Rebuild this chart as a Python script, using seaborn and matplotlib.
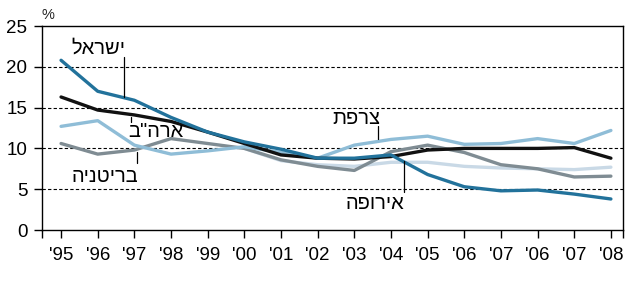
import numpy as np
import pandas as pd
import matplotlib
matplotlib.use("Agg")
import matplotlib.pyplot as plt
import seaborn as sns

tick_labels = ["'95", "'96", "'97", "'98", "'99", "'00", "'01", "'02",
               "'03", "'04", "'05", "'06", "'07", "'06", "'07", "'08"]

israel  = [20.8, 17.0, 15.9, 13.8, 12.0, 10.8, 9.9, 8.8, 8.8, 9.2, 6.8, 5.3, 4.8, 4.9, 4.4, 3.8]
usa     = [16.3, 14.7, 14.1, 13.3, 12.0, 10.6, 9.2, 8.8, 8.7, 9.0, 9.8, 10.0, 10.0, 10.0, 10.1, 8.8]
france  = [12.7, 13.4, 10.4, 9.3, 9.7, 10.2, 9.5, 8.8, 10.4, 11.1, 11.5, 10.5, 10.6, 11.2, 10.6, 12.2]
britain = [10.6, 9.3, 9.8, 11.2, 10.6, 10.0, 8.6, 7.8, 7.3, 9.6, 10.4, 9.5, 8.0, 7.5, 6.5, 6.6]
europe  = [np.nan, np.nan, np.nan, np.nan, np.nan, 10.0, 8.5, 8.0, 7.8, 8.3, 8.3, 7.8, 7.6, 7.5, 7.4, 7.7]

series = {"europe": europe, "britain": britain, "france": france, "usa": usa, "israel": israel}
palette = {"europe": "#c9d9e6", "britain": "#7f8c93", "france": "#8fbdd7",
           "usa": "#111111", "israel": "#22729b"}

rows = []
for name, vals in series.items():
    for i, v in enumerate(vals):
        rows.append({"x": i, "value": v, "series": name})
df = pd.DataFrame(rows)

sns.set_theme(style="white")
plt.rcParams['font.family'] = ['Liberation Sans', 'DejaVu Sans']

fig = plt.figure(figsize=(6.26, 2.87), dpi=100)
ax = fig.add_axes([0.0671, 0.1986, 0.9281, 0.7108])

for yv in [5, 10, 15, 20]:
    ax.axhline(yv, color="black", lw=0.8, ls=(0, (3, 2)), zorder=1)

sns.lineplot(data=df, x="x", y="value", hue="series", palette=palette,
             hue_order=list(series.keys()), linewidth=2.4, legend=False,
             ax=ax, zorder=3, estimator=None, sort=False)

xmin, xmax = -0.52, 15.33
ax.set_xlim(xmin, xmax)
ax.set_ylim(0, 25)
ax.set_xticks(range(len(tick_labels)))
ax.set_xticklabels(tick_labels, fontsize=13.5)
ax.set_xticks([xmin, xmax], minor=True)
ax.set_yticks([0, 5, 10, 15, 20, 25])
ax.set_yticklabels(["0", "5", "10", "15", "20", "25"], fontsize=13.5)
ax.set_xlabel("")
ax.set_ylabel("")
ax.tick_params(axis="both", which="both", direction="out", length=5.6, width=1,
               color="black", bottom=True, left=True, colors="black")
ax.tick_params(axis="x", pad=6.5)
ax.tick_params(axis="y", pad=5)
for sp in ax.spines.values():
    sp.set_color("black")
    sp.set_linewidth(1.0)
    sp.set_visible(True)

fig.text(42 / 626, 1 - 15 / 287, "%", fontsize=10.5, ha="left", va="center")

# labels (Hebrew reversed for LTR rendering)
def lab(x, y, s):
    ax.text(x, y, s, fontsize=14.5, ha="center", va="center", color="black", zorder=5)

lab(1.01, 22.3, "לארשי")
ax.plot([1.72, 1.72], [21.2, 16.3], color="black", lw=0.9, zorder=4)
lab(2.6, 12.1, "ב\"הרא")
ax.plot([1.9, 1.9], [13.9, 13.2], color="black", lw=0.9, zorder=4)
lab(8.05, 13.7, "תפרצ")
ax.plot([8.64, 8.64], [12.7, 11.1], color="black", lw=0.9, zorder=4)
lab(1.19, 6.6, "הינטירב")
ax.plot([2.07, 2.07], [9.5, 8.2], color="black", lw=0.9, zorder=4)
lab(8.56, 3.3, "הפוריא")
ax.plot([9.35, 9.35], [8.4, 4.65], color="black", lw=0.9, zorder=4)

fig.savefig("out.png", dpi=100)
